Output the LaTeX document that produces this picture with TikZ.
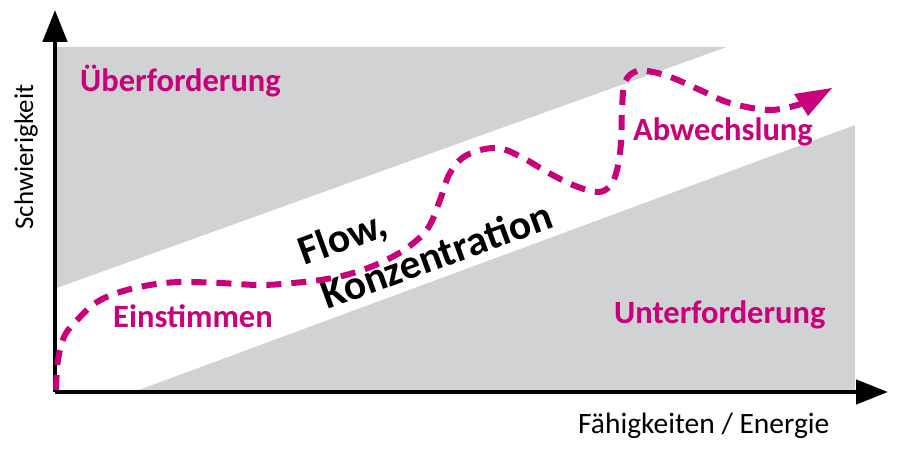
\documentclass[tikz,border=0pt]{standalone}
\usepackage{fontspec}
\setmainfont{Carlito}
\usetikzlibrary{arrows.meta}
\definecolor{bandgray}{RGB}{209,210,212}
\definecolor{flowmag}{RGB}{200,0,122}
\tikzset{
  axisline/.style={line width=4.5pt, -{Triangle[length=32pt,width=24pt]}},
  zonelabel/.style={text=flowmag, font=\fontsize{32.5}{36}\selectfont\bfseries, inner sep=0pt, anchor=base west},
  axislabel/.style={text=black, font=\fontsize{29.5}{32}\selectfont, inner sep=0pt, anchor=base west},
  flowlabel/.style={text=black, font=\fontsize{41.5}{49}\selectfont\bfseries, inner sep=0pt, anchor=base west, rotate=20, align=left},
  flowpath/.style={draw=flowmag, line width=6pt, dash pattern=on 15pt off 10pt},
}
\begin{document}
\begin{tikzpicture}[x=1pt,y=-1pt]
\useasboundingbox (0,0) rectangle (900,460);
% gray zones
\fill[bandgray] (57,47) rectangle (855,392);
\fill[white] (57,288) -- (727,47) -- (855,47) -- (855,125) -- (133,392) -- (57,392) -- cycle;
% axes
\coordinate (origin) at (55,392);
\coordinate (ytip) at (55,10);
\coordinate (xtip) at (888,392);
\draw[axisline] (origin) -- (ytip);
\draw[axisline] (origin) -- (xtip);
% labels
\node[zonelabel] (ueber) at (80,92) {Überforderung};
\node[zonelabel] (einst) at (113,327) {Einstimmen};
\node[zonelabel] (abw) at (633,140) {Abwechslung};
\node[zonelabel] (unter) at (614,323) {Unterforderung};
\node[axislabel] (xlab) at (578,433) {Fähigkeiten / Energie};
\node[axislabel, rotate=90, font=\fontsize{27}{32}\selectfont] (ylab) at (33,230) {Schwierigkeit};
\node[flowlabel] (flow) at (321.5,312) {Flow,\\\hspace*{6pt}Konzentration};
% flow curve
\coordinate (cstart) at (56,390);
\coordinate (cend) at (801,104);
\coordinate (ctip) at (832,88);
\draw[flowpath] plot[smooth, tension=0.6] coordinates {
 (56,390) (58,360) (65,335) (80,317) (97,302) (120,292) (150,285) (180,282)
 (220,283) (260,285) (293,283) (327,279) (353,273) (380,263) (407,248) (428,228)
 (440,200) (450,173) (467,155) (497,148) (523,158) (547,172) (573,185) (597,192)
 (610,186) (617,170) (621,143) (622,110) (625,82) (637,71) (653,72) (673,78)
 (700,90) (730,103) (770,110) (801,104)};
\fill[flowmag] (ctip) -- (794,94) -- (808,116) -- cycle;
\end{tikzpicture}
\end{document}
